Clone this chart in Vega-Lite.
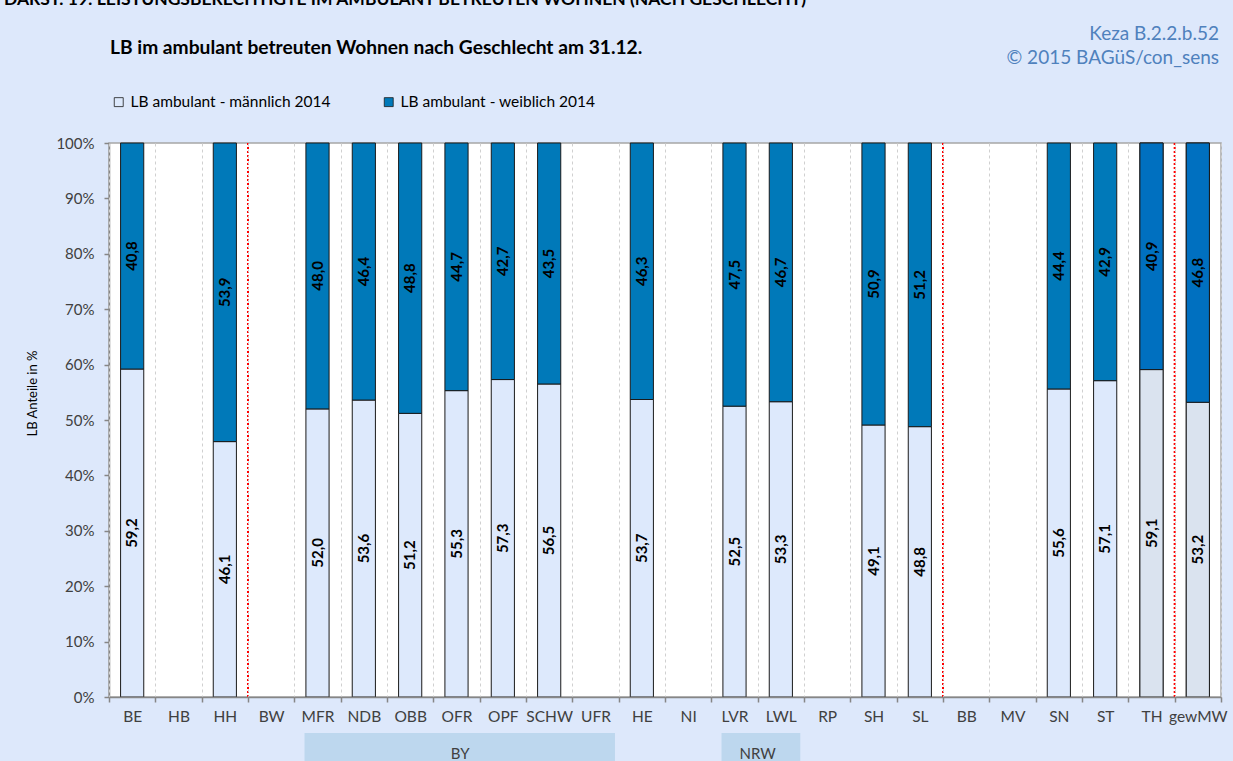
{
  "$schema": "https://vega.github.io/schema/vega-lite/v6.json",
  "width": 1112,
  "height": 554,
  "autosize": {"type": "none"},
  "padding": {"left": 109, "top": 143, "right": 12, "bottom": 64},
  "background": "#dde8fb",
  "config": {
    "locale": {"number": {"decimal": ",", "thousands": ".", "grouping": [3], "currency": ["", " €"]}},
    "font": "Lato",
    "view": {"fill": "white", "stroke": "#a6a6a6", "strokeWidth": 1.5}
  },
  "datasets": {
    "anteile": [
      {"region": "BE", "geschlecht": "m", "serie": "LB ambulant - männlich 2014", "anteil": 59.2},
      {"region": "BE", "geschlecht": "w", "serie": "LB ambulant - weiblich 2014", "anteil": 40.8},
      {"region": "HH", "geschlecht": "m", "serie": "LB ambulant - männlich 2014", "anteil": 46.1},
      {"region": "HH", "geschlecht": "w", "serie": "LB ambulant - weiblich 2014", "anteil": 53.9},
      {"region": "MFR", "geschlecht": "m", "serie": "LB ambulant - männlich 2014", "anteil": 52.0},
      {"region": "MFR", "geschlecht": "w", "serie": "LB ambulant - weiblich 2014", "anteil": 48.0},
      {"region": "NDB", "geschlecht": "m", "serie": "LB ambulant - männlich 2014", "anteil": 53.6},
      {"region": "NDB", "geschlecht": "w", "serie": "LB ambulant - weiblich 2014", "anteil": 46.4},
      {"region": "OBB", "geschlecht": "m", "serie": "LB ambulant - männlich 2014", "anteil": 51.2},
      {"region": "OBB", "geschlecht": "w", "serie": "LB ambulant - weiblich 2014", "anteil": 48.8},
      {"region": "OFR", "geschlecht": "m", "serie": "LB ambulant - männlich 2014", "anteil": 55.3},
      {"region": "OFR", "geschlecht": "w", "serie": "LB ambulant - weiblich 2014", "anteil": 44.7},
      {"region": "OPF", "geschlecht": "m", "serie": "LB ambulant - männlich 2014", "anteil": 57.3},
      {"region": "OPF", "geschlecht": "w", "serie": "LB ambulant - weiblich 2014", "anteil": 42.7},
      {"region": "SCHW", "geschlecht": "m", "serie": "LB ambulant - männlich 2014", "anteil": 56.5},
      {"region": "SCHW", "geschlecht": "w", "serie": "LB ambulant - weiblich 2014", "anteil": 43.5},
      {"region": "HE", "geschlecht": "m", "serie": "LB ambulant - männlich 2014", "anteil": 53.7},
      {"region": "HE", "geschlecht": "w", "serie": "LB ambulant - weiblich 2014", "anteil": 46.3},
      {"region": "LVR", "geschlecht": "m", "serie": "LB ambulant - männlich 2014", "anteil": 52.5},
      {"region": "LVR", "geschlecht": "w", "serie": "LB ambulant - weiblich 2014", "anteil": 47.5},
      {"region": "LWL", "geschlecht": "m", "serie": "LB ambulant - männlich 2014", "anteil": 53.3},
      {"region": "LWL", "geschlecht": "w", "serie": "LB ambulant - weiblich 2014", "anteil": 46.7},
      {"region": "SH", "geschlecht": "m", "serie": "LB ambulant - männlich 2014", "anteil": 49.1},
      {"region": "SH", "geschlecht": "w", "serie": "LB ambulant - weiblich 2014", "anteil": 50.9},
      {"region": "SL", "geschlecht": "m", "serie": "LB ambulant - männlich 2014", "anteil": 48.8},
      {"region": "SL", "geschlecht": "w", "serie": "LB ambulant - weiblich 2014", "anteil": 51.2},
      {"region": "SN", "geschlecht": "m", "serie": "LB ambulant - männlich 2014", "anteil": 55.6},
      {"region": "SN", "geschlecht": "w", "serie": "LB ambulant - weiblich 2014", "anteil": 44.4},
      {"region": "ST", "geschlecht": "m", "serie": "LB ambulant - männlich 2014", "anteil": 57.1},
      {"region": "ST", "geschlecht": "w", "serie": "LB ambulant - weiblich 2014", "anteil": 42.9},
      {"region": "TH", "geschlecht": "m", "serie": "LB ambulant - männlich 2014", "anteil": 59.1},
      {"region": "TH", "geschlecht": "w", "serie": "LB ambulant - weiblich 2014", "anteil": 40.9},
      {"region": "gewMW", "geschlecht": "m", "serie": "LB ambulant - männlich 2014", "anteil": 53.2},
      {"region": "gewMW", "geschlecht": "w", "serie": "LB ambulant - weiblich 2014", "anteil": 46.8}
    ],
    "trenner": [{"vor": "BW"}, {"vor": "BB"}, {"vor": "gewMW"}],
    "gruppen": [
      {"gruppe": "BY", "von": "MFR", "bis": "UFR"},
      {"gruppe": "NRW", "von": "LVR", "bis": "LWL"}
    ],
    "leer": [{}]
  },
  "layer": [
    {
      "data": {"name": "gruppen"},
      "mark": {"type": "rect", "color": "#bdd7ee", "clip": false},
      "encoding": {
        "x": {"field": "von", "type": "nominal", "bandPosition": 0.22, "title": null,
              "scale": {"domain": ["BE","HB","HH","BW","MFR","NDB","OBB","OFR","OPF","SCHW","UFR","HE","NI","LVR","LWL","RP","SH","SL","BB","MV","SN","ST","TH","gewMW"], "paddingInner": 0, "paddingOuter": 0}},
        "x2": {"field": "bis", "bandPosition": 0.92},
        "y": {"datum": -6.5, "type": "quantitative", "scale": {"domain": [0, 100]}},
        "y2": {"datum": -11.6}
      }
    },
    {
      "data": {"name": "anteile"},
      "transform": [
        {"stack": "anteil", "groupby": ["region"], "sort": [{"field": "geschlecht", "order": "ascending"}], "as": ["y0", "y1"]}
      ],
      "mark": {"type": "bar", "stroke": "#1a1a1a", "strokeWidth": 1, "width": {"band": 0.5}},
      "encoding": {
        "x": {"field": "region", "type": "nominal", "title": null,
              "scale": {"domain": ["BE","HB","HH","BW","MFR","NDB","OBB","OFR","OPF","SCHW","UFR","HE","NI","LVR","LWL","RP","SH","SL","BB","MV","SN","ST","TH","gewMW"], "paddingInner": 0, "paddingOuter": 0},
              "axis": {
                "tickBand": "extent", "grid": true, "gridDash": [3, 3], "gridColor": "#d0d0d0", "gridWidth": 1,
                "labelAngle": 0, "labelAlign": "center", "labelFontSize": 15.5, "labelColor": "#404040", "labelFont": "Lato",
                "labelOverlap": false, "labelBound": false,
                "tickColor": "#868686", "tickSize": 5, "tickWidth": 1.5, "domainColor": "#868686", "domainWidth": 1.5,
                "labelPadding": 14
              }},
        "y": {"field": "y0", "type": "quantitative", "scale": {"domain": [0, 100]},
              "axis": {
                "values": [0, 10, 20, 30, 40, 50, 60, 70, 80, 90, 100],
                "labelExpr": "datum.value + '%'",
                "gridColor": "#868686", "gridWidth": 1.5,
                "tickColor": "#868686", "tickSize": 5, "tickWidth": 1.5, "domainColor": "#868686", "domainWidth": 1.5,
                "labelFontSize": 15, "labelColor": "#404040", "labelFont": "Lato", "labelPadding": 10,
                "title": "LB Anteile in %", "titleFontSize": 13, "titleFontWeight": "normal", "titleColor": "black",
                "titleFont": "Lato", "titlePadding": 16, "titleY": 250
              }},
        "y2": {"field": "y1"},
        "color": {
          "field": "serie", "type": "nominal",
          "scale": {"domain": ["LB ambulant - männlich 2014", "LB ambulant - weiblich 2014"], "range": ["#dde9fc", "#0079b9"]},
          "legend": {
            "orient": "none", "legendX": 2, "legendY": -49, "direction": "horizontal", "title": null,
            "symbolType": "square", "symbolSize": 80, "symbolStrokeColor": "#1a1a1a", "symbolStrokeWidth": 0.8,
            "labelFontSize": 15.5, "labelColor": "black", "labelFont": "Lato", "labelLimit": 300,
            "columnPadding": 50, "labelOffset": 4
          }
        }
      }
    },
    {
      "data": {"name": "anteile"},
      "transform": [
        {"stack": "anteil", "groupby": ["region"], "sort": [{"field": "geschlecht", "order": "ascending"}], "as": ["y0", "y1"]},
        {"filter": "datum.region === 'TH' || datum.region === 'gewMW'"}
      ],
      "mark": {"type": "bar", "stroke": "#1a1a1a", "strokeWidth": 1, "width": {"band": 0.5}},
      "encoding": {
        "x": {"field": "region", "type": "nominal", "title": null,
              "scale": {"domain": ["BE","HB","HH","BW","MFR","NDB","OBB","OFR","OPF","SCHW","UFR","HE","NI","LVR","LWL","RP","SH","SL","BB","MV","SN","ST","TH","gewMW"], "paddingInner": 0, "paddingOuter": 0}},
        "y": {"field": "y0", "type": "quantitative", "scale": {"domain": [0, 100]}},
        "y2": {"field": "y1"},
        "fill": {"condition": {"test": "datum.geschlecht === 'm'", "value": "#dae3ef"}, "value": "#0070c0"}
      }
    },
    {
      "data": {"name": "anteile"},
      "transform": [
        {"stack": "anteil", "groupby": ["region"], "sort": [{"field": "geschlecht", "order": "ascending"}], "as": ["y0", "y1"]},
        {"calculate": "(datum.y0 + datum.y1) / 2", "as": "mitte"}
      ],
      "mark": {"type": "text", "angle": 270, "align": "center", "baseline": "middle", "fontSize": 15, "fontWeight": "bold", "color": "black", "font": "Lato"},
      "encoding": {
        "x": {"field": "region", "type": "nominal", "title": null,
              "scale": {"domain": ["BE","HB","HH","BW","MFR","NDB","OBB","OFR","OPF","SCHW","UFR","HE","NI","LVR","LWL","RP","SH","SL","BB","MV","SN","ST","TH","gewMW"], "paddingInner": 0, "paddingOuter": 0}},
        "y": {"field": "mitte", "type": "quantitative", "scale": {"domain": [0, 100]}},
        "text": {"field": "anteil", "type": "quantitative", "format": ".1f"}
      }
    },
    {
      "data": {"name": "trenner"},
      "mark": {"type": "rule", "color": "#ff0000", "strokeWidth": 2, "strokeDash": [2, 2]},
      "encoding": {
        "x": {"field": "vor", "type": "nominal", "bandPosition": 0, "title": null,
              "scale": {"domain": ["BE","HB","HH","BW","MFR","NDB","OBB","OFR","OPF","SCHW","UFR","HE","NI","LVR","LWL","RP","SH","SL","BB","MV","SN","ST","TH","gewMW"], "paddingInner": 0, "paddingOuter": 0}}
      }
    },
    {
      "data": {"name": "leer"},
      "mark": {"type": "text", "align": "center", "baseline": "middle", "fontSize": 15, "color": "#404040", "font": "Lato", "clip": false},
      "encoding": {
        "x": {"datum": "OFR", "type": "nominal", "bandPosition": 0.58},
        "y": {"datum": -10.3, "type": "quantitative", "scale": {"domain": [0, 100]}},
        "text": {"value": "BY"}
      }
    },
    {
      "data": {"name": "leer"},
      "mark": {"type": "text", "align": "center", "baseline": "middle", "fontSize": 15, "color": "#404040", "font": "Lato", "clip": false},
      "encoding": {
        "x": {"datum": "LWL", "type": "nominal", "bandPosition": 0},
        "y": {"datum": -10.3, "type": "quantitative", "scale": {"domain": [0, 100]}},
        "text": {"value": "NRW"}
      }
    },
    {
      "data": {"name": "leer"},
      "mark": {"type": "text", "align": "left", "baseline": "middle", "fontSize": 19.2, "fontWeight": "bold", "color": "black", "font": "Lato", "xOffset": 1, "clip": false},
      "encoding": {
        "x": {"datum": "BE", "type": "nominal", "bandPosition": 0},
        "y": {"datum": 117.1, "type": "quantitative", "scale": {"domain": [0, 100]}},
        "text": {"value": "LB im ambulant betreuten Wohnen nach Geschlecht am 31.12."}
      }
    },
    {
      "data": {"name": "leer"},
      "mark": {"type": "text", "align": "right", "baseline": "top", "fontSize": 19, "color": "#4f81bd", "font": "Lato", "lineHeight": 24, "xOffset": -2, "clip": false},
      "encoding": {
        "x": {"datum": "gewMW", "type": "nominal", "bandPosition": 1},
        "y": {"datum": 121.25, "type": "quantitative", "scale": {"domain": [0, 100]}},
        "text": {"value": ["Keza B.2.2.b.52", "© 2015 BAGüS/con_sens"]}
      }
    },
    {
      "data": {"name": "leer"},
      "mark": {"type": "text", "align": "left", "baseline": "alphabetic", "fontSize": 17.5, "fontWeight": "bold", "color": "black", "font": "Lato", "xOffset": -105, "clip": false},
      "encoding": {
        "x": {"datum": "BE", "type": "nominal", "bandPosition": 0},
        "y": {"datum": 125.0, "type": "quantitative", "scale": {"domain": [0, 100]}},
        "text": {"value": "DARST. 19: LEISTUNGSBERECHTIGTE IM AMBULANT BETREUTEN WOHNEN (NACH GESCHLECHT)"}
      }
    }
  ]
}
